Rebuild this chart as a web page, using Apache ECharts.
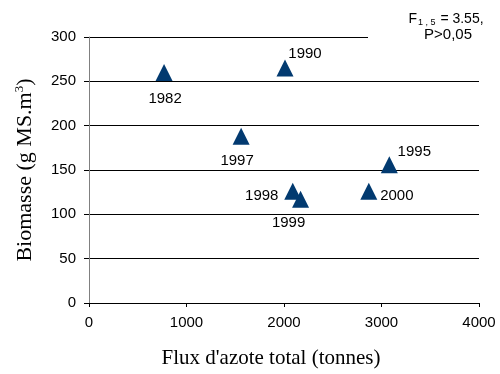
<!DOCTYPE html>
<html><head><meta charset="utf-8">
<script src="https://cdn.jsdelivr.net/npm/echarts@6/dist/echarts.min.js"></script>
<style>html,body{margin:0;padding:0;background:#fff}#c{width:500px;height:374px}</style>
</head><body><div id="c"></div>
<script>
const years = ['1982','1990','1997','1998','1999','2000','1995'];
const flux = [770, 2010, 1560, 2090, 2170, 2870, 3080];
const biomasse = [260, 265, 188, 126, 117, 126, 156];
const xTicks = [0, 1000, 2000, 3000, 4000];
const yTicks = [0, 50, 100, 150, 200, 250, 300];

const labelOffsets = {
  '1982': [1, 26], '1990': [20, -14], '1997': [-4, 25], '1998': [-31, 5],
  '1999': [-12, 24], '2000': [28, 5], '1995': [25, -13]
};

const chart = echarts.init(document.getElementById('c'), null, {renderer: 'canvas'});
const data = years.map((y, i) => ({
  value: [flux[i], biomasse[i]], name: y,
  label: {offset: labelOffsets[y]}
}));
chart.setOption({
  animation: false,
  grid: {left: 89, right: 21, top: 37, bottom: 71},
  xAxis: {
    type: 'value', min: xTicks[0], max: xTicks[xTicks.length-1], interval: 1000,
    name: 'Flux d\'azote total (tonnes)', nameLocation: 'middle', nameGap: 45,
    nameTextStyle: {fontFamily: 'Liberation Serif', fontSize: 21, color: '#000', padding: [0, 26, 0, 0]},
    axisLine: {lineStyle: {color: '#000', width: 1}},
    axisTick: {show: true, length: 4, lineStyle: {color: '#000'}},
    axisLabel: {fontFamily: 'Liberation Sans', fontSize: 15, color: '#000', margin: 12,
      formatter: v => String(v)},
    splitLine: {show: false}
  },
  yAxis: {
    type: 'value', min: yTicks[0], max: yTicks[yTicks.length-1], interval: 50,
    name: '{a|Biomasse (g MS.m}{s|3}{a|)}', nameLocation: 'middle', nameGap: 52,
    nameTextStyle: {rich: {
      a: {fontFamily: 'Liberation Serif', fontSize: 22, color: '#000'},
      s: {fontFamily: 'Liberation Serif', fontSize: 13, color: '#000', verticalAlign: 'top', padding: [0,0,11,0]}
    }},
    axisLine: {show: true, lineStyle: {color: '#808080', width: 1}},
    axisTick: {show: true, length: 5, lineStyle: {color: '#000'}},
    axisLabel: {fontFamily: 'Liberation Sans', fontSize: 15, color: '#000', margin: 13,
      formatter: v => String(v)},
    splitLine: {show: true, lineStyle: {color: '#000', width: 1}}
  },
  graphic: [
    {type: 'rect', shape: {x: 368, y: 0, width: 132, height: 46}, style: {fill: '#fff'}, z: 100},
    {type: 'text', x: 446, y: 19, z: 101, style: {
      text: '{a|F}{s|1 , 5}{a| = 3.55,}', align: 'center', verticalAlign: 'middle',
      rich: {
        a: {fontFamily: 'Liberation Sans', fontSize: 14, fill: '#000'},
        s: {fontFamily: 'Liberation Sans', fontSize: 9, fill: '#000', padding: [7,1,0,1]}
      }
    }},
    {type: 'text', x: 448, y: 35, z: 101, style: {
      text: 'P>0,05', fontFamily: 'Liberation Sans', fontSize: 15, fill: '#000',
      align: 'center', verticalAlign: 'middle'
    }}
  ],
  series: [{
    type: 'scatter', symbol: 'triangle', symbolSize: [17, 17],
    itemStyle: {color: '#023a70', opacity: 1},
    label: {show: true, position: 'inside', formatter: '{b}',
      fontFamily: 'Liberation Sans', fontSize: 15, color: '#000'},
    data: data
  }]
});
</script></body></html>
